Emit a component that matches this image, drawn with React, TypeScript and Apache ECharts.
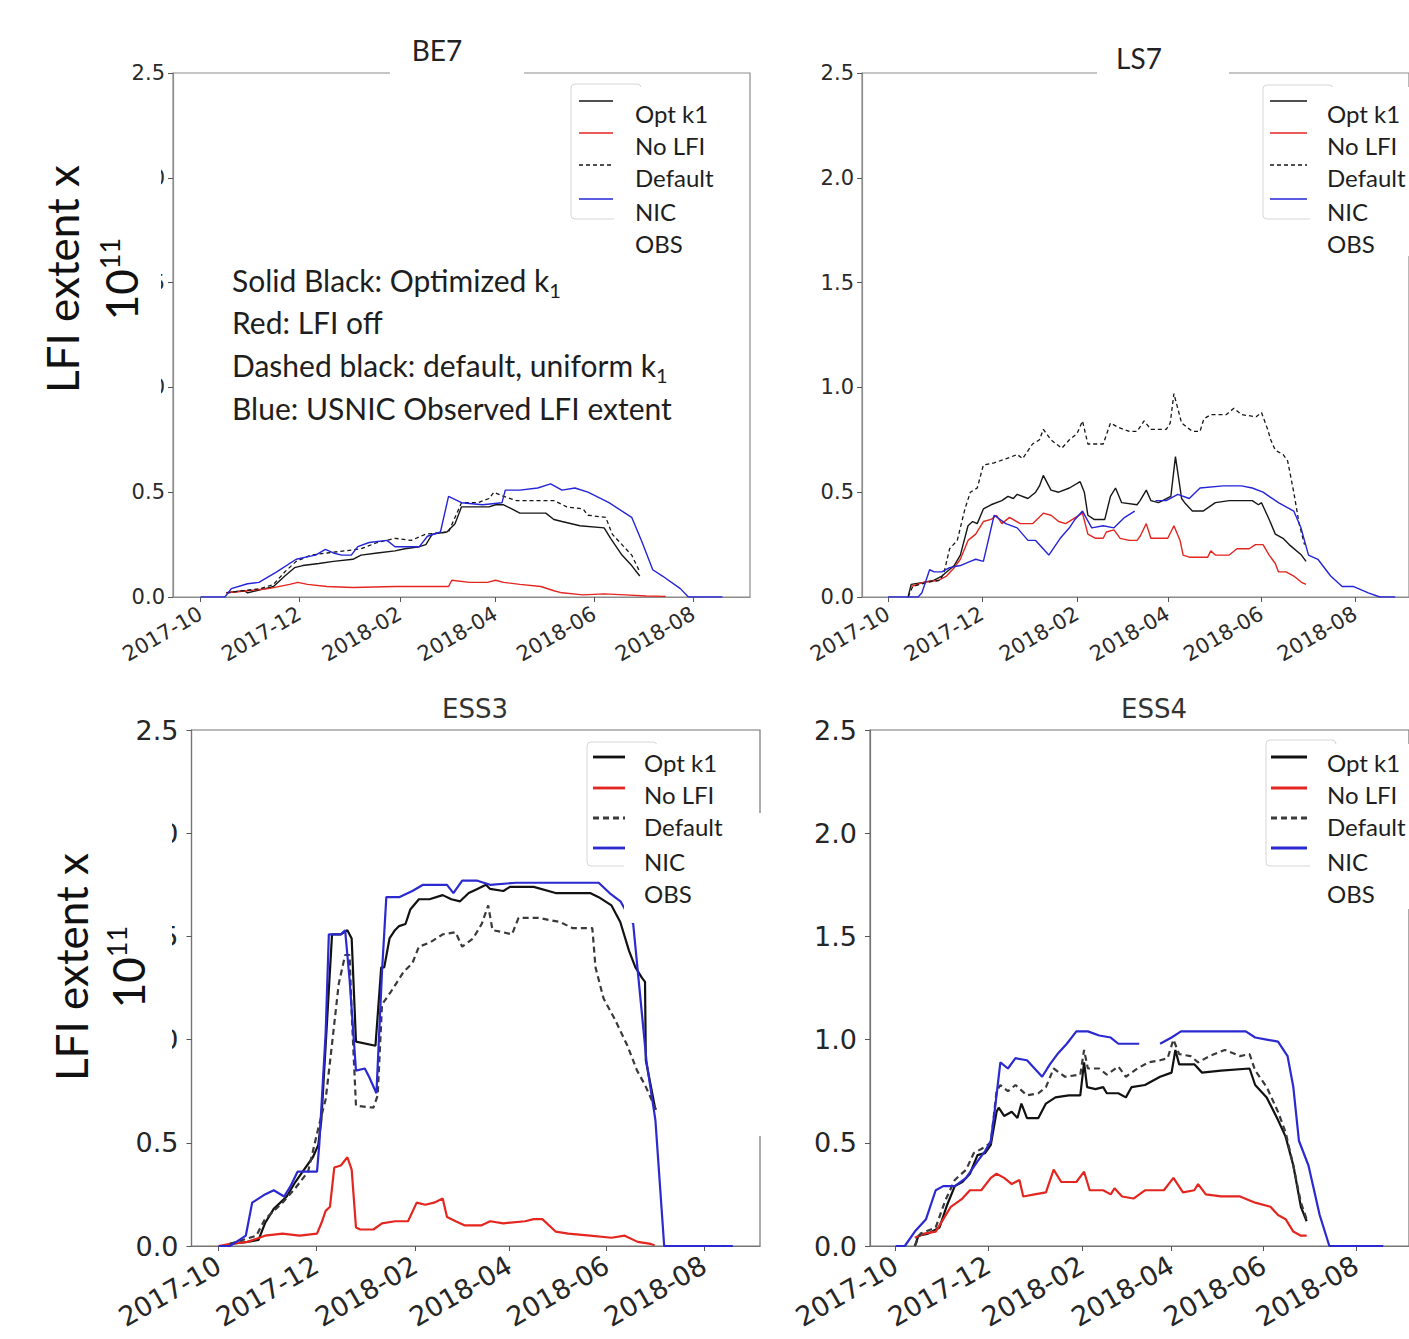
import React, { useEffect, useRef } from "react";
import * as echarts from "echarts";

type Pt = [number, number | null];

// ---- axes / labels ----
const START_DATE = "2017-10-01";
const X_RANGE_DAYS = [-17, 339];
const TICK_LABELS = ["2017-10", "2017-12", "2018-02", "2018-04", "2018-06", "2018-08"];
const Y_MAX = 2.5;
const Y_STEP = 0.5;
const PANEL_TITLES = ["BE7", "LS7", "ESS3", "ESS4"];
const LEGEND_LABELS = ["Opt k1", "No LFI", "Default", "NIC", "OBS"];
const SERIES_NAMES = ["Opt k1", "No LFI", "Default", "NIC OBS"];
const NOTE_LINES: [string, string][] = [
  ["Solid Black: Optimized k", "1"],
  ["Red: LFI off", ""],
  ["Dashed black: default, uniform k", "1"],
  ["Blue: USNIC Observed LFI extent", ""],
];
const Y_TITLE = "LFI extent x";
const Y_TITLE_POWER = ["10", "11"];

// ---- data: [days since 2017-10-01, extent x 1e11] ----
const BE7_OPT: Pt[] = [[16,0.02],[27,0.03],[29,0.02],[40,0.04],[45,0.05],[52,0.1],[58,0.14],[63,0.15],[73,0.16],[82,0.17],[94,0.18],[99,0.2],[109,0.21],[120,0.22],[126,0.23],[135,0.24],[139,0.25],[143,0.3],[152,0.31],[157,0.35],[161,0.43],[178,0.43],[182,0.44],[187,0.44],[192,0.42],[197,0.4],[213,0.4],[218,0.37],[223,0.36],[234,0.34],[249,0.33],[253,0.28],[260,0.2],[266,0.15],[271,0.1]];
const BE7_NOLFI: Pt[] = [[16,0.02],[29,0.03],[42,0.04],[55,0.06],[60,0.07],[66,0.06],[78,0.05],[94,0.045],[120,0.05],[141,0.05],[153,0.05],[155,0.08],[166,0.07],[177,0.07],[182,0.08],[187,0.07],[197,0.06],[210,0.05],[218,0.03],[223,0.02],[236,0.01],[249,0.015],[262,0.01],[275,0.005],[287,0.003]];
const BE7_DEFAULT: Pt[] = [[16,0.02],[37,0.04],[45,0.06],[52,0.12],[59,0.17],[68,0.2],[78,0.21],[89,0.22],[99,0.23],[109,0.26],[120,0.28],[130,0.27],[139,0.3],[153,0.31],[161,0.45],[171,0.45],[178,0.47],[181,0.5],[187,0.48],[195,0.46],[218,0.46],[226,0.43],[236,0.42],[239,0.39],[250,0.38],[254,0.3],[260,0.25],[266,0.2],[271,0.12]];
const BE7_NIC: Pt[] = [[0,0],[15,0],[19,0.04],[29,0.063],[36,0.07],[47,0.12],[59,0.18],[65,0.19],[71,0.2],[77,0.227],[82,0.21],[87,0.2],[93,0.2],[97,0.24],[104,0.26],[115,0.27],[120,0.24],[135,0.24],[140,0.29],[148,0.31],[153,0.48],[161,0.45],[174,0.44],[186,0.45],[188,0.51],[197,0.51],[208,0.52],[216,0.54],[223,0.51],[231,0.52],[239,0.5],[252,0.45],[266,0.38],[272,0.27],[279,0.13],[285,0.1],[296,0.04],[301,0],[322,0]];

const LS7_OPT: Pt[] = [[13,0],[15,0.06],[23,0.07],[30,0.08],[35,0.1],[43,0.15],[47,0.2],[52,0.34],[55,0.36],[58,0.35],[62,0.42],[67,0.44],[74,0.46],[78,0.48],[81.5,0.47],[84,0.49],[91,0.47],[96,0.5],[98.5,0.53],[101,0.58],[106,0.51],[111,0.5],[118,0.52],[125,0.55],[127.7,0.5],[130,0.39],[134,0.37],[141,0.37],[144.7,0.48],[148,0.52],[152,0.45],[162,0.44],[164,0.46],[168,0.51],[171,0.46],[176,0.45],[184,0.48],[187,0.67],[191,0.47],[193,0.45],[198,0.41],[205,0.41],[213,0.45],[222,0.46],[237,0.46],[241,0.44],[243,0.45],[248,0.37],[252,0.3],[257,0.28],[261,0.25],[269,0.2],[272,0.17]];
const LS7_NOLFI: Pt[] = [[15,0.05],[23,0.07],[33,0.08],[38,0.1],[43,0.14],[47,0.18],[52,0.27],[57,0.3],[62,0.36],[67,0.37],[70.5,0.39],[74,0.35],[79,0.38],[86,0.35],[94,0.35],[101,0.4],[106,0.39],[111,0.36],[115.5,0.35],[120,0.37],[126.5,0.4],[130,0.3],[135,0.28],[140,0.28],[142,0.31],[147,0.32],[151,0.28],[157,0.27],[162,0.27],[164,0.29],[168,0.35],[171,0.28],[182,0.28],[186,0.34],[190,0.27],[192,0.2],[196,0.19],[208,0.19],[210,0.22],[213,0.2],[222,0.2],[227,0.23],[235,0.23],[239,0.25],[244,0.25],[248,0.2],[252,0.16],[254,0.12],[259,0.12],[264,0.1],[269,0.07],[272,0.06]];
const LS7_DEFAULT: Pt[] = [[13,0],[16,0.05],[25.5,0.07],[34,0.08],[36.5,0.12],[40,0.23],[45,0.27],[50,0.42],[53.5,0.5],[58,0.52],[62,0.63],[69,0.64],[77,0.66],[84,0.68],[87.5,0.66],[94,0.73],[98.5,0.75],[101,0.8],[106,0.75],[113,0.71],[118,0.75],[123,0.78],[126.5,0.84],[130,0.73],[140,0.73],[144.7,0.83],[149.6,0.81],[157,0.79],[162,0.79],[166.6,0.84],[171,0.8],[181,0.8],[183.6,0.83],[186,0.97],[188.5,0.9],[191,0.83],[198,0.79],[203,0.79],[205.5,0.85],[210,0.87],[220,0.87],[225,0.9],[230,0.87],[239.5,0.86],[243,0.88],[247,0.8],[249,0.75],[252,0.7],[257,0.68],[260,0.65],[264,0.5],[267.5,0.35],[271,0.25]];
const LS7_NIC: Pt[] = [[0,0],[19.5,0],[22,0.02],[27,0.13],[30,0.12],[35,0.12],[40,0.14],[47,0.15],[53.5,0.17],[57,0.18],[62,0.17],[69,0.39],[76.6,0.35],[84,0.33],[91,0.27],[96,0.27],[104.6,0.2],[112,0.28],[118,0.33],[121.6,0.37],[126.5,0.41],[132.5,0.33],[140,0.34],[147,0.33],[154,0.38],[160.5,0.41],[167,null],[174,0.46],[181,0.46],[188.5,0.49],[196,0.47],[203,0.52],[218,0.53],[230,0.53],[237,0.52],[244,0.5],[254,0.45],[264,0.41],[268.7,0.33],[273.6,0.2],[279.7,0.18],[288,0.1],[295.5,0.05],[303,0.05],[312.5,0.02],[320,0],[330,0]];

const ESS3_OPT: Pt[] = [[7,0.01],[18,0.02],[25,0.03],[29,0.11],[34.5,0.18],[42.6,0.24],[48,0.31],[53.5,0.37],[59,0.43],[62.4,0.49],[64.3,0.61],[67,0.97],[71,1.51],[76.5,1.51],[80.6,1.53],[83.3,1.49],[86,0.99],[98.2,0.97],[101.8,1.35],[103.7,1.35],[107,1.49],[110.4,1.53],[113,1.55],[117,1.56],[120,1.63],[125.4,1.68],[132,1.68],[140.3,1.7],[145.7,1.68],[151.2,1.67],[156.6,1.71],[162,1.73],[167.4,1.75],[170,1.73],[178.3,1.72],[182.4,1.74],[197.3,1.74],[211,1.71],[232.6,1.71],[238,1.69],[246,1.65],[251.5,1.57],[257,1.43],[261,1.35],[265,1.3],[267,1.28],[267.5,0.9],[273.5,0.66]];
const ESS3_NOLFI: Pt[] = [[0,0],[7.3,0.01],[18,0.02],[29,0.05],[40,0.06],[50.7,0.05],[61.6,0.06],[64.3,0.11],[67,0.17],[69.7,0.19],[72.4,0.38],[76.5,0.39],[80.6,0.43],[83.3,0.37],[86,0.09],[88.7,0.08],[96.9,0.08],[102.3,0.11],[110.4,0.12],[118.6,0.12],[124,0.21],[129.4,0.2],[134.9,0.21],[140.3,0.23],[143,0.14],[148.4,0.12],[153.9,0.1],[164.7,0.1],[170,0.12],[178.3,0.11],[191.9,0.12],[197.3,0.13],[202.7,0.13],[211,0.07],[219,0.06],[232.6,0.05],[246,0.04],[254.3,0.05],[262.4,0.02],[270.6,0.01],[273,0.004]];
const ESS3_DEFAULT: Pt[] = [[7,0.01],[23.6,0.05],[29,0.13],[40,0.21],[48,0.28],[56,0.36],[63,0.59],[67,0.71],[69.7,0.89],[75.2,1.27],[79.2,1.41],[82,1.41],[83.3,1.13],[86,0.68],[96.9,0.67],[99.6,0.73],[102.3,1.17],[107.7,1.23],[116,1.33],[121.3,1.37],[125.4,1.45],[132.2,1.47],[140.3,1.51],[148.4,1.52],[152.5,1.45],[159.3,1.49],[164.7,1.56],[168.8,1.65],[171.5,1.53],[178.3,1.52],[183.7,1.51],[187.8,1.59],[200,1.59],[213.6,1.57],[221.7,1.54],[234,1.54],[236,1.35],[241,1.2],[248,1.1],[256,0.97],[262,0.85],[267,0.78],[274.5,0.65]];
const ESS3_NIC: Pt[] = [[0,0],[7,0],[13,0.03],[17,0.05],[21,0.21],[29,0.25],[34.5,0.27],[41,0.24],[45,0.29],[49.4,0.36],[61.6,0.36],[63,0.49],[67,1.03],[69,1.51],[76.5,1.51],[79.2,1.53],[82,1.29],[86,0.85],[91.5,0.86],[94.2,0.82],[98.8,0.74],[102.3,1.33],[105,1.69],[113,1.69],[121.3,1.72],[128,1.75],[143,1.75],[147,1.71],[152.5,1.77],[162,1.77],[170,1.75],[186.4,1.76],[238,1.76],[244.8,1.71],[251.6,1.67],[259.6,1.56],[268,0.89],[273.5,0.61],[279,0],[322,0]];

const ESS4_OPT: Pt[] = [[12.6,0],[15,0.05],[21.4,0.06],[28.9,0.09],[34,0.2],[39,0.29],[44,0.31],[49,0.35],[54,0.44],[59,0.45],[62.8,0.49],[66.6,0.65],[68,0.67],[71.6,0.63],[76.6,0.65],[80.4,0.62],[83,0.69],[86.7,0.62],[94.2,0.62],[99.2,0.69],[105.5,0.72],[114.3,0.73],[121.9,0.73],[124.4,0.89],[126.4,0.77],[131.9,0.76],[137,0.77],[139.4,0.74],[147,0.74],[152,0.72],[155.8,0.77],[164.6,0.78],[174.6,0.82],[182.2,0.84],[184.7,0.95],[187.2,0.88],[197.2,0.88],[202.3,0.84],[214.8,0.85],[233.7,0.86],[237.4,0.78],[245,0.72],[252.5,0.61],[257.5,0.53],[262.6,0.39],[267.6,0.19],[271.4,0.12]];
const ESS4_NOLFI: Pt[] = [[12.6,0.04],[18.8,0.06],[26.4,0.07],[31.4,0.13],[36.4,0.19],[44,0.23],[49,0.27],[56.5,0.27],[62.8,0.33],[66.6,0.35],[71.6,0.33],[76.6,0.3],[81.7,0.32],[84.2,0.24],[91.7,0.25],[99.2,0.26],[104.3,0.37],[109.3,0.31],[119.3,0.31],[124.4,0.36],[128.1,0.27],[137,0.27],[142,0.25],[144.5,0.28],[149.5,0.24],[157,0.23],[164.6,0.27],[177.1,0.27],[183.4,0.33],[189.7,0.26],[197.2,0.27],[199.7,0.3],[204.8,0.25],[214.8,0.24],[227.4,0.24],[237.4,0.21],[247.5,0.19],[252.5,0.15],[257.5,0.13],[262.6,0.07],[267.6,0.05],[271.4,0.05]];
const ESS4_DEFAULT: Pt[] = [[12.6,0],[16.3,0.06],[26.4,0.09],[32.7,0.22],[39,0.32],[46.5,0.37],[51.5,0.45],[56.5,0.47],[62.8,0.5],[66.6,0.75],[69.1,0.78],[74.1,0.75],[79.1,0.78],[86.7,0.73],[94.2,0.74],[99.2,0.77],[104.3,0.86],[111.8,0.82],[121.9,0.83],[124.4,0.95],[126.9,0.86],[134.4,0.86],[139.4,0.83],[147,0.87],[152,0.82],[159.5,0.86],[167.1,0.89],[174.6,0.9],[179.6,0.91],[183.4,1.0],[187.2,0.93],[194.7,0.92],[199.7,0.89],[207.3,0.92],[217.3,0.95],[227.4,0.92],[233.7,0.93],[237.4,0.85],[245,0.77],[252.5,0.65],[257.5,0.55],[262.6,0.39],[267.6,0.21],[271.4,0.13]];
const ESS4_NIC: Pt[] = [[0,0],[6,0],[12.6,0.07],[20,0.13],[26.4,0.27],[31.4,0.29],[39,0.29],[46.5,0.33],[54,0.41],[59,0.46],[62.8,0.51],[65.3,0.65],[69.1,0.89],[74.1,0.86],[79.1,0.91],[86.7,0.9],[91.7,0.86],[96.7,0.82],[101.8,0.88],[106.8,0.93],[113,0.98],[119.3,1.04],[126.9,1.04],[134.4,1.02],[142,1.01],[147,0.98],[160.8,0.98],[167,null],[174.6,0.98],[182.2,1.01],[188.4,1.04],[202.3,1.04],[214.8,1.04],[231.2,1.04],[237.4,1.01],[245,1.0],[252.5,0.99],[258.8,0.92],[262.6,0.77],[266.3,0.51],[272.6,0.39],[280,0.15],[286.4,0],[322,0]];

const PANEL_DATA: Pt[][][] = [
  [BE7_OPT, BE7_NOLFI, BE7_DEFAULT, BE7_NIC],
  [LS7_OPT, LS7_NOLFI, LS7_DEFAULT, LS7_NIC],
  [ESS3_OPT, ESS3_NOLFI, ESS3_DEFAULT, ESS3_NIC],
  [ESS4_OPT, ESS4_NOLFI, ESS4_DEFAULT, ESS4_NIC],
];

// ---- layout (pixels) ----
const LAYOUT = [
  { left: 173, top: 73, width: 577, height: 524, big: false,
    title: { x: 437, y: 50, gap: [390, 524] as number[] | null },
    box: [571, 84, 70, 135], covers: [[614, 87, 134, 169]],
    sx: [579, 613], sy: [101, 133, 165, 199], lx: 635, ly: [113, 145, 177, 211, 243] },
  { left: 862, top: 73, width: 580, height: 524, big: false,
    title: { x: 1139, y: 58, gap: [1097, 1229] as number[] | null },
    box: [1263, 85, 70, 134], covers: [[1310, 87, 99, 169]],
    sx: [1270, 1307], sy: [101, 133, 165, 199], lx: 1327, ly: [113, 145, 177, 211, 243] },
  { left: 191.5, top: 730, width: 568.5, height: 516, big: true,
    title: { x: 475, y: 709, gap: null as number[] | null },
    box: [587, 742, 70, 124], covers: [[624, 744, 133, 179], [753, 813, 20, 323]],
    sx: [593, 625], sy: [757, 788, 818, 848], lx: 644, ly: [762, 794, 826, 861, 893] },
  { left: 870, top: 730, width: 568, height: 516, big: true,
    title: { x: 1154, y: 709, gap: null as number[] | null },
    box: [1266, 740, 70, 126], covers: [[1310, 744, 99, 165]],
    sx: [1271, 1307], sy: [757, 788, 818, 848], lx: 1327, ly: [762, 794, 826, 861, 893] },
];

const STYLE_TOP = [
  { color: "#161616", width: 1.4, type: "solid" as any },
  { color: "#e3261f", width: 1.4, type: "solid" as any },
  { color: "#161616", width: 1.3, type: [4, 3] as any },
  { color: "#2424d8", width: 1.4, type: "solid" as any },
];
const STYLE_BOTTOM = [
  { color: "#111111", width: 2.2, type: "solid" as any },
  { color: "#e3261f", width: 2.2, type: "solid" as any },
  { color: "#3a3a3a", width: 2.2, type: [6, 4] as any },
  { color: "#2a2ad0", width: 2.2, type: "solid" as any },
];

const CAL = "Lato, 'Open Sans', sans-serif";
const DV = "'DejaVu Sans', sans-serif";

function buildOption() {
  const DAY = 86400000;
  const base = Date.parse(START_DATE);
  const tickTs = TICK_LABELS.map((s) => Date.parse(s + "-01"));
  const fmt = (v: number) => {
    const d = new Date(v);
    return `${d.getUTCFullYear()}-${String(d.getUTCMonth() + 1).padStart(2, "0")}`;
  };

  const grid: any[] = [];
  const xAxis: any[] = [];
  const yAxis: any[] = [];
  const series: any[] = [];
  const graphic: any[] = [];

  LAYOUT.forEach((L, i) => {
    const spine = L.big ? "#757575" : "#8c8c8c";
    const fs = L.big ? 27 : 21;
    const labColor = L.big ? "#262626" : "#2a2a2a";
    grid.push({ left: L.left, top: L.top, width: L.width, height: L.height, show: true, borderColor: spine, borderWidth: 1.2, backgroundColor: "transparent" });
    xAxis.push({
      type: "value", gridIndex: i, scale: true,
      min: base + X_RANGE_DAYS[0] * DAY, max: base + X_RANGE_DAYS[1] * DAY,
      axisLine: { show: true, lineStyle: { color: spine, width: 1.2 } },
      axisTick: { show: true, customValues: tickTs, length: 5, lineStyle: { color: "#555" } },
      axisLabel: { customValues: tickTs, formatter: fmt, rotate: 30, fontSize: fs, fontFamily: DV, color: labColor, margin: L.big ? 17 : 15 },
      splitLine: { show: false },
    });
    yAxis.push({
      type: "value", gridIndex: i, min: 0, max: Y_MAX, interval: Y_STEP,
      axisLine: { show: true, lineStyle: { color: spine, width: 1.2 } },
      axisTick: { show: true, length: 5, lineStyle: { color: "#555" } },
      axisLabel: { formatter: (v: number) => v.toFixed(1), fontSize: fs, fontFamily: DV, color: labColor, margin: L.big ? 13 : 8 },
      splitLine: { show: false },
    });
    const styles = L.big ? STYLE_BOTTOM : STYLE_TOP;
    PANEL_DATA[i].forEach((arr, k) => {
      series.push({
        type: "line", name: SERIES_NAMES[k], xAxisIndex: i, yAxisIndex: i,
        data: arr.map(([d, v]) => [base + d * DAY, v === null ? "-" : v]),
        showSymbol: false, symbol: "none", silent: true, connectNulls: false,
        lineStyle: { color: styles[k].color, width: styles[k].width, type: styles[k].type },
        z: 2 + k,
      });
    });

    // title
    if (L.title.gap) {
      graphic.push({ type: "rect", z: 100, shape: { x: L.title.gap[0], y: 66, width: L.title.gap[1] - L.title.gap[0], height: 12 }, style: { fill: "#fff" } });
    }
    graphic.push({
      type: "text", z: 101, x: L.title.x, y: L.title.y,
      style: { text: PANEL_TITLES[i], fontSize: L.big ? 26 : 28, fontFamily: L.big ? DV : CAL, fill: L.big ? "#333" : "#222",
        align: "center", verticalAlign: "middle" },
    });

    // legend
    graphic.push({ type: "rect", z: 100, shape: { x: L.box[0], y: L.box[1], width: L.box[2], height: L.box[3], r: 4 }, style: { fill: "#fff", stroke: "#d6d6d6", lineWidth: 1 } });
    L.covers.forEach((c) => graphic.push({ type: "rect", z: 102, shape: { x: c[0], y: c[1], width: c[2], height: c[3] }, style: { fill: "#fff" } }));
    styles.forEach((s, k) => {
      graphic.push({
        type: "line", z: 103,
        shape: { x1: L.sx[0], y1: L.sy[k], x2: L.sx[1], y2: L.sy[k] },
        style: { stroke: s.color, lineWidth: L.big ? 2.8 : 1.6, lineDash: Array.isArray(s.type) ? s.type : null },
      });
    });
    LEGEND_LABELS.forEach((t, k) => {
      graphic.push({
        type: "text", z: 104, x: L.lx, y: L.ly[k],
        style: { text: t, fontSize: 24, fontFamily: CAL, fill: "#1e1e1e", align: "left", verticalAlign: "middle" },
      });
    });
  });

  // white patches over the left y tick labels, then the y titles
  const yTitles = [
    { cover: [30, 92, 131, 378], a: [62, 279], b: [121, 279] },
    { cover: [40, 752, 132, 356], a: [71, 967], b: [128, 967] },
  ];
  yTitles.forEach((Y) => {
    graphic.push({ type: "rect", z: 110, shape: { x: Y.cover[0], y: Y.cover[1], width: Y.cover[2], height: Y.cover[3] }, style: { fill: "#fff" } });
    graphic.push({
      type: "text", z: 111, x: Y.a[0], y: Y.a[1], rotation: Math.PI / 2,
      style: { text: Y_TITLE, fontSize: 44, fontFamily: CAL, fill: "#111", align: "center", verticalAlign: "middle" },
    });
    graphic.push({
      type: "text", z: 111, x: Y.b[0], y: Y.b[1], rotation: Math.PI / 2,
      style: {
        text: `{n|${Y_TITLE_POWER[0]}}{s|${Y_TITLE_POWER[1]}}`,
        fontFamily: CAL, fill: "#111", align: "center", verticalAlign: "middle",
        rich: {
          n: { fontSize: 44, lineHeight: 50, fontFamily: CAL, fill: "#111" },
          s: { fontSize: 27, lineHeight: 27, verticalAlign: "top", fontFamily: CAL, fill: "#111" },
        },
      },
    });
  });

  // annotation block in BE7
  const noteY = [280, 322, 365, 408];
  NOTE_LINES.forEach(([main, sub], k) => {
    graphic.push({
      type: "text", z: 105, x: 232, y: noteY[k],
      style: {
        text: sub ? `{m|${main}}{s|${sub}}` : `{m|${main}}`,
        align: "left", verticalAlign: "middle",
        fontFamily: CAL, fill: "#1e1e1e",
        rich: {
          m: { fontSize: 30, lineHeight: 40, fontFamily: CAL, fill: "#1e1e1e" },
          s: { fontSize: 20, lineHeight: 20, verticalAlign: "bottom", fontFamily: CAL, fill: "#1e1e1e" },
        },
      },
    });
  });

  return {
    animation: false,
    backgroundColor: "#ffffff",
    textStyle: { fontFamily: DV },
    grid, xAxis, yAxis, series, graphic,
  };
}

export default function App() {
  const ref = useRef<HTMLDivElement>(null);
  useEffect(() => {
    document.body.style.margin = "0";
    if (!ref.current) return;
    const chart = echarts.init(ref.current, undefined, { renderer: "svg" });
    chart.setOption(buildOption() as any);
    return () => chart.dispose();
  }, []);
  return <div ref={ref} style={{ width: 1409, height: 1339 }} />;
}
